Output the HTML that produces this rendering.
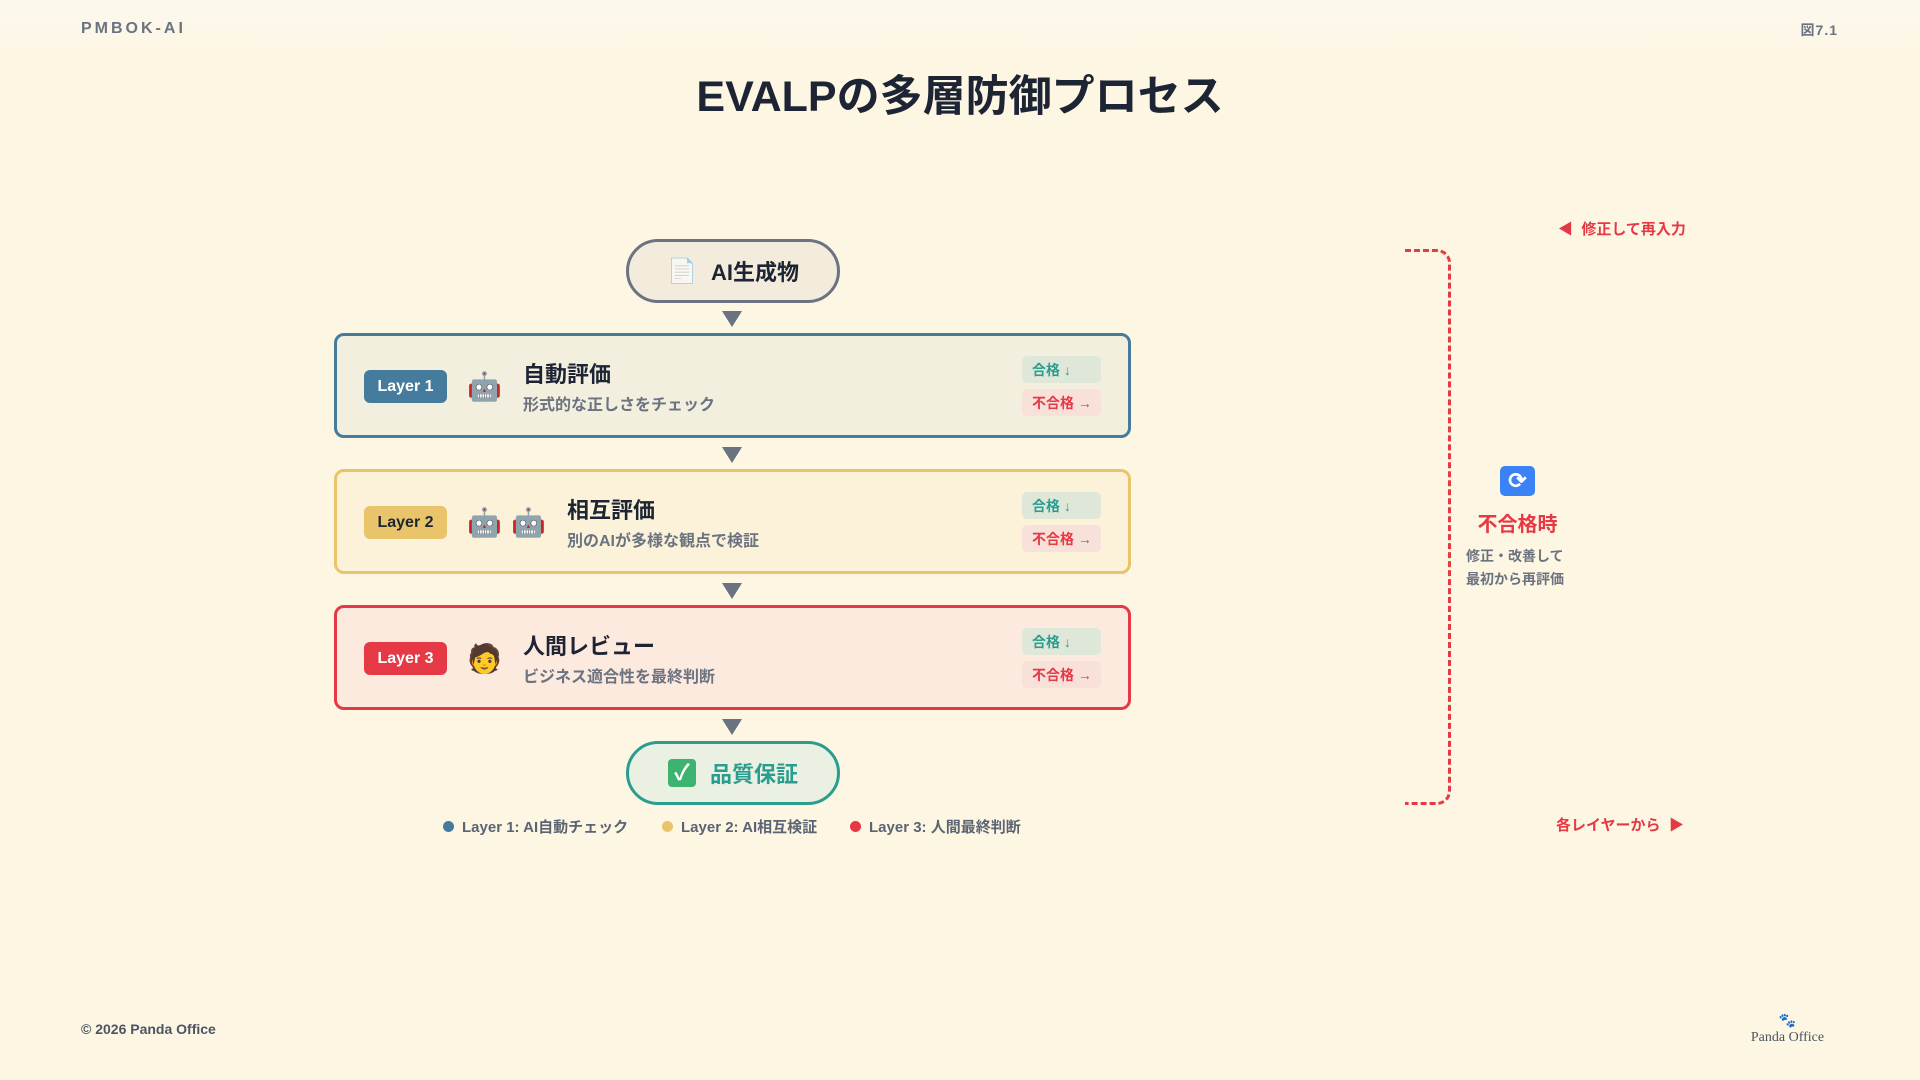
<!DOCTYPE html>
<html><head><meta charset="utf-8"><style>
*{margin:0;padding:0;box-sizing:border-box}
body{width:1920px;height:1080px;overflow:hidden;background:linear-gradient(#fcf8ee 0,#fdf6e3 60px,#fdf6e3 100%);font-family:"Liberation Sans","Noto Sans CJK JP",sans-serif;position:relative;color:#1d2433}
.a{position:absolute}
.pill{position:absolute;left:626px;width:214px;height:64px;border-radius:32px;display:flex;align-items:center;justify-content:center;font-weight:bold;font-size:22px;gap:14px}
.tri{position:absolute;left:722px;width:0;height:0;border-left:10px solid transparent;border-right:10px solid transparent;border-top:16px solid #6b7280}
.box{position:absolute;left:334px;width:797px;height:105px;border:3px solid;border-radius:10px}
.badge{position:absolute;left:27px;top:34px;height:33px;border-radius:6px;color:#fff;font-weight:bold;font-size:16px;display:flex;align-items:center;justify-content:center;width:83px}
.t{position:absolute;top:21px;font-size:22px;font-weight:bold;color:#1d2433}
.s{position:absolute;top:55px;font-size:16px;color:#6b7280;font-weight:bold}
.ok,.ng{position:absolute;left:685px;width:79px;height:27px;border-radius:5px;font-size:14px;font-weight:bold;display:flex;align-items:center;padding-left:10px}
.ok{top:20px;background:#dfe8d8;color:#2a9d8f}
.ng{top:53px;background:#f8e1d8;color:#e63946}
.ic{position:absolute;top:36px;font-size:28px;line-height:30px}
.lg{position:absolute;top:816px;font-size:15px;font-weight:bold;color:#5b6472;display:flex;align-items:center;gap:8px}
.dot{width:11px;height:11px;border-radius:50%}
</style></head><body>
<div class="a" style="left:81px;top:20px;font-size:16px;font-weight:bold;letter-spacing:3px;color:#6b7280">PMBOK-AI</div>
<div class="a" style="right:82px;top:20px;font-size:14px;font-weight:bold;color:#6b7280;letter-spacing:1px">図7.1</div>
<div class="a" style="left:0;width:1920px;top:62px;text-align:center;font-size:43px;font-weight:bold;color:#1d2433">EVALPの多層防御プロセス</div>

<div class="pill" style="top:239px;border:3px solid #6b7280;background:#f3ecdc"><span style="font-size:24px;opacity:.6">📄</span>AI生成物</div>
<div class="tri" style="top:311px"></div>

<div class="box" style="top:333px;border-color:#457b9d;background:#f3efdf">
<div class="badge" style="background:#457b9d">Layer 1</div>
<div class="ic" style="left:130px">🤖</div>
<div class="t" style="left:186px">自動評価</div><div class="s" style="left:186px">形式的な正しさをチェック</div>
<div class="ok">合格 ↓</div><div class="ng">不合格 →</div></div>
<div class="tri" style="top:447px"></div>

<div class="box" style="top:469px;border-color:#e9c46a;background:#fcf2da">
<div class="badge" style="background:#e9c46a;color:#1d2433">Layer 2</div>
<div class="ic" style="left:130px">🤖</div><div class="ic" style="left:174px">🤖</div>
<div class="t" style="left:230px">相互評価</div><div class="s" style="left:230px">別のAIが多様な観点で検証</div>
<div class="ok">合格 ↓</div><div class="ng">不合格 →</div></div>
<div class="tri" style="top:583px"></div>

<div class="box" style="top:605px;border-color:#e63946;background:#fdeadf">
<div class="badge" style="background:#e63946">Layer 3</div>
<div class="ic" style="left:130px">🧑</div>
<div class="t" style="left:186px">人間レビュー</div><div class="s" style="left:186px">ビジネス適合性を最終判断</div>
<div class="ok">合格 ↓</div><div class="ng">不合格 →</div></div>
<div class="tri" style="top:719px"></div>

<div class="pill" style="top:741px;border:3px solid #2a9d8f;background:#eaf1e2;color:#2a9d8f"><span style="display:inline-block;width:28px;height:28px;background:#3cb371;border-radius:4px;color:#fff;font-size:22px;line-height:28px;text-align:center">✓</span>品質保証</div>

<div class="lg" style="left:443px"><span class="dot" style="background:#457b9d"></span>Layer 1: AI自動チェック</div>
<div class="lg" style="left:662px"><span class="dot" style="background:#e9c46a"></span>Layer 2: AI相互検証</div>
<div class="lg" style="left:850px"><span class="dot" style="background:#e63946"></span>Layer 3: 人間最終判断</div>

<div class="a" style="left:1405px;top:249px;width:46px;height:556px;border:3px dashed #e63946;border-left:none;border-radius:0 14px 14px 0"></div>
<div class="a" style="left:1558px;top:218px;font-size:15px;font-weight:bold;color:#e63946">◀&nbsp; 修正して再入力</div>
<div class="a" style="left:1556px;top:814px;font-size:15px;font-weight:bold;color:#e63946">各レイヤーから&nbsp; ▶</div>
<div class="a" style="left:1500px;top:466px;width:35px;height:30px;border-radius:5px;background:#3b82f6;color:#fff;font-size:22px;line-height:30px;text-align:center;font-weight:bold">⟳</div>
<div class="a" style="left:1460px;top:508px;width:115px;text-align:center;font-size:20px;font-weight:bold;color:#e63946">不合格時</div>
<div class="a" style="left:1466px;top:545px;font-size:14px;font-weight:bold;color:#6b7280;line-height:23px">修正・改善して<br>最初から再評価</div>

<div class="a" style="left:81px;top:1021px;font-size:14px;font-weight:bold;color:#4b5563">© 2026 Panda Office</div>
<div class="a" style="left:1740px;top:1014px;width:95px;text-align:center;font-family:'Liberation Serif',serif;font-size:14px;color:#4b5563;line-height:16px">🐾<br>Panda Office</div>
</body></html>
